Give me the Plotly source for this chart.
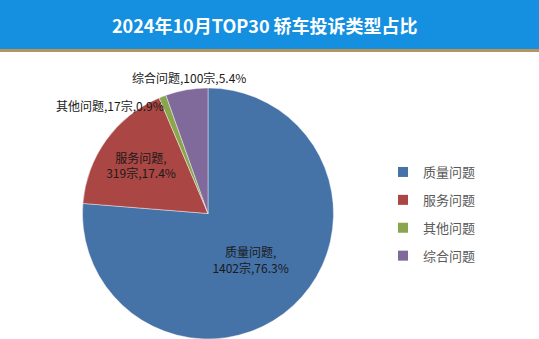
import math
import plotly.graph_objects as go

categories = ["质量问题", "服务问题", "其他问题", "综合问题"]
counts = [1402, 319, 17, 100]
percents = [76.3, 17.4, 0.9, 5.4]
colors = ["#4572A7", "#AA4643", "#89A54E", "#80699B"]
title_text = "2024年10月TOP30 轿车投诉类型占比"

W, H = 539, 339
cx, cy, r = 208, 213.5, 125.5  # pie centre / radius in pixels (layout)

texts = []
positions = []
for c, n, p in zip(categories, counts, percents):
    if p > 10:
        texts.append(f"{c},<br>{n}宗,{p}%")
        positions.append("inside")
    else:
        texts.append("")
        positions.append("none")

fig = go.Figure()
fig.add_trace(go.Pie(
    labels=categories,
    values=counts,
    text=texts,
    textinfo="text",
    hoverinfo="label+value+percent",
    sort=False,
    direction="clockwise",
    rotation=0,
    marker=dict(colors=colors, line=dict(color="rgba(255,255,255,0.6)", width=0.7)),
    textposition=positions,
    insidetextorientation="horizontal",
    textfont=dict(family="Noto Sans CJK SC", size=12, color="#1a1a1a"),
    domain=dict(x=[(cx - r) / W, (cx + r) / W], y=[1 - (cy + r) / H, 1 - (cy - r) / H]),
    showlegend=False,
))

# legend entries (square markers, spaced like the original)
for i, (c, col) in enumerate(zip(categories, colors)):
    fig.add_trace(go.Scatter(
        x=[None], y=[None], mode="markers", name=c,
        marker=dict(symbol="square", size=10, color=col),
        legendgroup=f"g{i}", showlegend=True, hoverinfo="skip",
    ))

# outside labels for the small slices, placed from the slice angles
annotations = []
total = sum(counts)
cum = 0
for c, n, p in zip(categories, counts, percents):
    mid = (cum + n / 2) / total
    cum += n
    if p > 10:
        continue
    ang = 2 * math.pi * mid  # clockwise from 12 o'clock
    sx, sy = math.sin(ang), math.cos(ang)
    if abs(sx) < 0.25:
        rr = r + 2
        px, py = cx + rr * sx + 3, cy - rr * sy
        xa, ya = "center", "bottom"
    else:
        rr = r + 2
        px, py = cx + rr * sx + 4, cy - rr * sy
        xa, ya = ("right" if sx < 0 else "left"), "top"
    annotations.append(dict(
        text=f"{c},{n}宗,{p}%", xref="paper", yref="paper",
        x=px / W, y=1 - py / H, xanchor=xa, yanchor=ya, showarrow=False,
        font=dict(family="Noto Sans CJK SC", size=12, color="#1a1a1a"),
    ))

annotations.append(dict(
    text=f"<b>{title_text}</b>", xref="paper", yref="paper",
    x=265 / W, y=1 - 25 / H, xanchor="center", yanchor="middle",
    showarrow=False, font=dict(family="Noto Sans CJK SC", size=18, color="white"),
))

fig.update_layout(
    width=W, height=H,
    margin=dict(l=0, r=0, t=0, b=0),
    paper_bgcolor="white",
    plot_bgcolor="rgba(0,0,0,0)",
    font=dict(family="Noto Sans CJK SC"),
    xaxis=dict(visible=False, domain=[0.99, 1]),
    yaxis=dict(visible=False, domain=[0, 0.01]),
    legend=dict(
        x=383 / W, y=1 - 157 / H, xanchor="left", yanchor="top",
        font=dict(family="Noto Sans CJK SC", size=13, color="#595959"),
        traceorder="grouped",
        tracegroupgap=8,
        itemwidth=30,
        bgcolor="rgba(0,0,0,0)",
    ),
    shapes=[
        dict(type="rect", xref="paper", yref="paper", x0=0, x1=1,
             y0=1 - 49 / H, y1=1, fillcolor="#1590e0", line=dict(width=0), layer="below"),
        dict(type="rect", xref="paper", yref="paper", x0=0, x1=1,
             y0=1 - 52 / H, y1=1 - 49 / H, fillcolor="#b8935c", line=dict(width=0), layer="below"),
    ],
    annotations=annotations,
)

fig.write_html("out.html")
